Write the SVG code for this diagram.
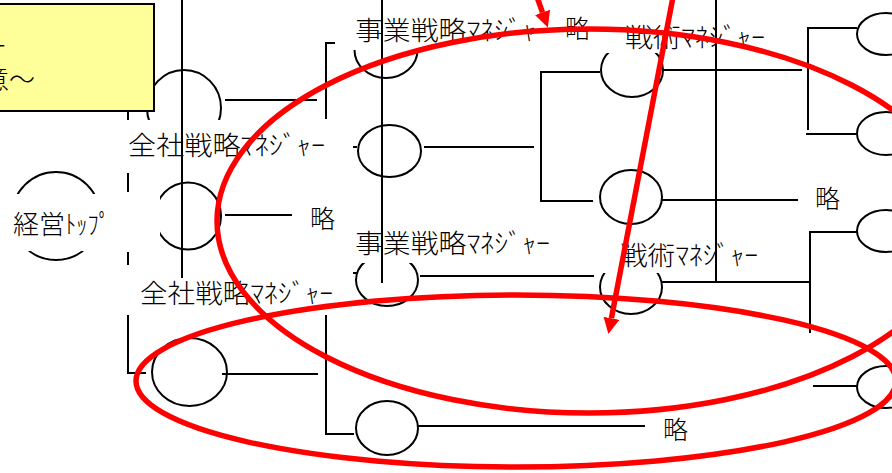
<svg xmlns="http://www.w3.org/2000/svg" width="892" height="473" viewBox="0 0 892 473">
<defs>
<style>
.n{fill:none;stroke:#000;stroke-width:2}
.m{fill:#fff;stroke:none}
.t{font-family:"Noto Sans CJK JP","Noto Sans",sans-serif;font-size:26px;font-weight:300;fill:#000}
.s{font-family:"Noto Sans CJK JP","Noto Sans",sans-serif;font-size:25px;font-weight:300;fill:#000}
#connectors line,#connectors path{stroke:#000;stroke-width:2;fill:none}
.r{fill:none;stroke:#f00;stroke-width:5.5}
</style>
<marker id="ah" viewBox="0 -8 16 16" refX="0" refY="0" markerWidth="16" markerHeight="16" markerUnits="userSpaceOnUse" orient="auto">
<path d="M0,-8 L16,0 L0,8 Z" fill="#f00"/>
</marker>
</defs>
<rect width="892" height="473" fill="#fff"/>

<g id="nodeA"><ellipse class="n" cx="184" cy="108" rx="37" ry="38"/></g>
<g id="note"><rect x="-2" y="4" width="156" height="107" fill="#FFFF99" stroke="#000" stroke-width="2"/>
<text class="t" x="7" y="56" text-anchor="end">ー</text>
<text class="t" x="35" y="89" text-anchor="end">意〜</text></g>
<g id="nodeK"><ellipse class="n" cx="188" cy="216" rx="33" ry="33.5"/>
<rect class="m" x="120" y="120" width="233" height="53"/>
<text class="t" x="128" y="155" textLength="197" lengthAdjust="spacingAndGlyphs">全社戦略ﾏﾈｼﾞｬｰ</text></g>
<g id="nodeTop"><ellipse class="n" cx="56" cy="216" rx="44" ry="44"/>
<rect class="m" x="0" y="194" width="160" height="57"/>
<text class="t" x="13" y="234">経営</text>
<text class="t" x="65" y="234" textLength="45" lengthAdjust="spacingAndGlyphs">ﾄｯﾌﾟ</text></g>
<g id="nodeL"><ellipse class="n" cx="189.5" cy="372" rx="37.5" ry="34"/>
<rect class="m" x="126" y="265" width="227" height="50"/>
<text class="t" x="140" y="303" textLength="193" lengthAdjust="spacingAndGlyphs">全社戦略ﾏﾈｼﾞｬｰ</text></g>
<g id="nodeB"><ellipse class="n" cx="386" cy="50" rx="31.5" ry="28"/>
<rect class="m" x="335" y="8" width="265" height="42"/>
<text class="t" x="355" y="40" textLength="195" lengthAdjust="spacingAndGlyphs">事業戦略ﾏﾈｼﾞｬｰ</text></g>
<g id="nodeC"><ellipse class="n" cx="389.5" cy="151" rx="31.5" ry="26"/></g>
<g id="nodeJ"><ellipse class="n" cx="387" cy="280" rx="31" ry="26"/>
<rect class="m" x="353" y="225" width="210" height="38"/>
<text class="t" x="355" y="253" textLength="195" lengthAdjust="spacingAndGlyphs">事業戦略ﾏﾈｼﾞｬｰ</text></g>
<g id="nodeM"><ellipse class="n" cx="387" cy="428" rx="31" ry="27"/></g>
<g id="nodeD"><ellipse class="n" cx="632" cy="70" rx="31" ry="27"/>
<rect class="m" x="600" y="12" width="180" height="41"/>
<text class="t" x="625" y="47" textLength="140" lengthAdjust="spacingAndGlyphs">戦術ﾏﾈｼﾞｬｰ</text></g>
<g id="nodeG"><ellipse class="n" cx="631" cy="197" rx="31" ry="27"/></g>
<g id="nodeI"><ellipse class="n" cx="631" cy="287" rx="31" ry="27"/>
<rect class="m" x="598" y="235" width="182" height="38"/>
<text class="t" x="620" y="265" textLength="138" lengthAdjust="spacingAndGlyphs">戦術ﾏﾈｼﾞｬｰ</text></g>
<g id="nodeE"><ellipse class="n" cx="886" cy="34" rx="29" ry="21"/></g>
<g id="nodeF"><ellipse class="n" cx="886" cy="133.5" rx="29" ry="21.5"/></g>
<g id="nodeH"><ellipse class="n" cx="886" cy="231" rx="29" ry="21"/></g>
<g id="nodeN"><ellipse class="n" cx="886" cy="387" rx="29" ry="21"/></g>
<g id="omit1"><text class="s" x="565" y="38">略</text></g>
<g id="omit2"><text class="s" x="310" y="228">略</text></g>
<g id="omit3"><text class="s" x="815" y="208">略</text></g>
<g id="omit4"><text class="s" x="663" y="439">略</text></g>

<g id="connectors">
<line x1="128" y1="112" x2="128" y2="120"/>
<line x1="128" y1="173" x2="128" y2="192"/>
<line x1="128" y1="252" x2="128" y2="265"/>
<path d="M128,315 V373 H146"/>
<line x1="182" y1="0" x2="182" y2="278"/>
<line x1="225" y1="100" x2="317" y2="100"/>
<path d="M335,43 H326 V119"/>
<line x1="225" y1="215" x2="292" y2="215"/>
<line x1="222" y1="374" x2="318" y2="374"/>
<path d="M326,315 V434 H354"/>
<line x1="382" y1="0" x2="382" y2="283"/>
<line x1="353" y1="147" x2="357" y2="147"/>
<line x1="424" y1="147" x2="534" y2="147"/>
<path d="M600,72 H541 V201 H593"/>
<line x1="353" y1="273" x2="358" y2="273"/>
<line x1="420" y1="276" x2="594" y2="276"/>
<line x1="418" y1="426" x2="645" y2="426"/>
<line x1="663" y1="70" x2="802" y2="70"/>
<line x1="716" y1="0" x2="716" y2="283"/>
<path d="M857,28 H808 V130"/>
<line x1="806" y1="134" x2="857" y2="134"/>
<line x1="662" y1="200" x2="798" y2="200"/>
<path d="M857,232 H810 V333"/>
<line x1="662" y1="282" x2="810" y2="282"/>
<line x1="813" y1="386" x2="857" y2="386"/>
</g>

<g id="annotations">
<ellipse class="r" cx="589" cy="221" rx="372" ry="192"/>
<ellipse class="r" cx="516" cy="381" rx="380" ry="86"/>
<line class="r" x1="537" y1="-3" x2="542.5" y2="12.4" marker-end="url(#ah)"/>
<line class="r" x1="673" y1="-3" x2="611.4" y2="318.3" marker-end="url(#ah)"/>
</g>
</svg>
